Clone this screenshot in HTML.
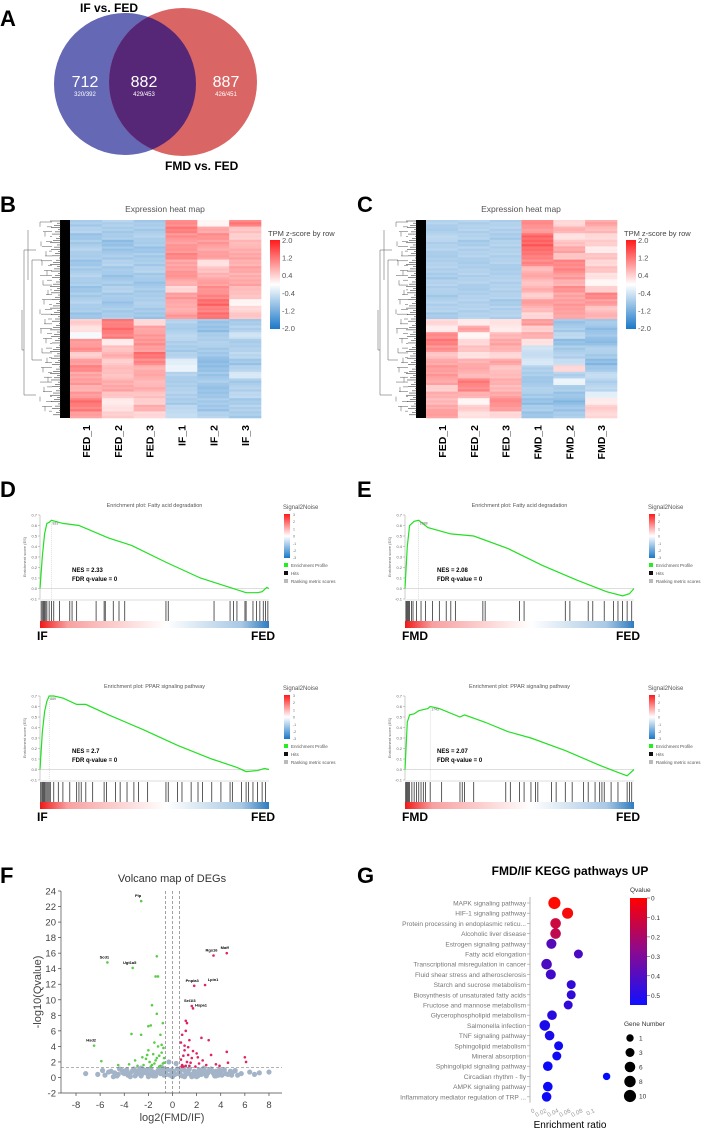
<!DOCTYPE html>
<html><head><meta charset="utf-8"><style>
body{margin:0;background:#fff;width:708px;height:1132px;overflow:hidden}
svg{display:block;font-family:"Liberation Sans",sans-serif}
</style></head><body>
<svg id="fig" width="708" height="1132" viewBox="0 0 708 1132" xmlns="http://www.w3.org/2000/svg">
<defs>
<linearGradient id="hmbar" x1="0" y1="0" x2="0" y2="1"><stop offset="0" stop-color="#ff1a1a"/><stop offset="0.5" stop-color="#ffffff"/><stop offset="1" stop-color="#1a78c8"/></linearGradient>
<linearGradient id="rankbar" x1="0" y1="0" x2="1" y2="0"><stop offset="0" stop-color="#f01818"/><stop offset="0.12" stop-color="#f8a0a0"/><stop offset="0.55" stop-color="#ffffff"/><stop offset="0.88" stop-color="#a8c8e4"/><stop offset="1" stop-color="#2e7cc0"/></linearGradient>
<linearGradient id="qbar" x1="0" y1="0" x2="0" y2="1"><stop offset="0" stop-color="#ff0000"/><stop offset="0.5" stop-color="#8a0a90"/><stop offset="1" stop-color="#1010ff"/></linearGradient>
</defs>
<g>
<text x="0" y="26" font-size="22" font-weight="bold">A</text>
<circle cx="125" cy="84" r="71" fill="#6568b5"/>
<circle cx="183" cy="82" r="74" fill="#d96565"/>
<clipPath id="cl"><circle cx="125" cy="84" r="71"/></clipPath>
<circle cx="183" cy="82" r="74" fill="#562776" clip-path="url(#cl)"/>
<text x="80" y="12" font-size="12" font-weight="bold">IF vs. FED</text>
<text x="165" y="170" font-size="12" font-weight="bold">FMD vs. FED</text>
<g fill="#fff" text-anchor="middle">
<text x="85" y="87" font-size="16">712</text><text x="85" y="96" font-size="6">320/392</text>
<text x="144" y="87" font-size="16">882</text><text x="144" y="96" font-size="6">429/453</text>
<text x="226" y="87" font-size="16">887</text><text x="226" y="96" font-size="6">426/451</text>
</g></g>
<text x="0" y="212" font-size="22" font-weight="bold">B</text>
<text x="357" y="212" font-size="22" font-weight="bold">C</text>
<text x="0" y="497" font-size="22" font-weight="bold">D</text>
<text x="357" y="497" font-size="22" font-weight="bold">E</text>
<text x="0" y="883" font-size="22" font-weight="bold">F</text>
<text x="357" y="883" font-size="22" font-weight="bold">G</text>
</svg>
<script>
const NS='http://www.w3.org/2000/svg';
const svg=document.getElementById('fig');
function mk(tag,attrs,name,parent){const el=document.createElementNS(NS,tag);for(const k in attrs)el.setAttribute(k,attrs[k]);


(parent||svg).appendChild(el);return el;}
function txt(x,y,s,size,name,extra){const e=mk('text',Object.assign({x:x,y:y,'font-size':size},extra||{}),name);e.textContent=s;return e;}

const hmColsB=['FED_1','FED_2','FED_3','IF_1','IF_2','IF_3'];
const hmB_FED1=[-0.9,-0.8,-1,-0.9,-0.8,-0.9,-1,-0.9,-0.8,-0.9,-1,-0.9,-0.8,-0.9,-1,0.5,0.3,-0.1,1.0,1.1,0.5,1.0,1.2,0.9,1.0,0.8,1.0,1.4,1.3,1.0];
const hmB_FED2=[-0.8,-0.9,-0.9,-1.1,-1,-0.9,-0.8,-0.9,-1,-0.9,-0.8,-0.9,-1,-0.9,-0.9,1.3,1.4,1.3,0.2,0.6,0.8,0.5,0.7,0.6,0.8,0.9,0.6,0.2,0.3,0.5];
const hmB_FED3=[-0.9,-0.9,-0.8,-0.9,-1,-0.9,-0.9,-0.8,-0.9,-1,-0.9,-0.9,-0.8,-0.9,-1,0.4,0.9,1.0,1.1,1.0,1.4,1.2,0.8,0.9,0.7,0.8,0.6,0.5,0.8,0.4];
const hmB_IF1=[1.2,1.3,1.1,1.0,1.1,1.2,0.9,1.0,1.1,0.8,0.4,1.0,0.9,0.8,1.0,-0.8,-0.9,-0.7,-0.8,-0.9,-0.8,-0.3,-0.2,-0.8,-0.9,-0.8,-0.8,-0.9,-0.7,-0.6];
const hmB_IF2=[0.1,0.9,1.1,1.0,0.9,1.0,0.3,0.6,0.8,1.0,1.1,1.2,1.5,1.3,1.4,-1.0,-1.1,-0.9,-0.8,-0.9,-1.0,-1.2,-1.1,-1.0,-0.9,-1.1,-1.0,-0.9,-1.0,-0.8];
const hmB_IF3=[1.3,0.6,0.5,0.7,0.8,0.9,0.8,0.9,0.8,0.9,0.7,0.6,0.1,0.4,0.6,-0.9,-0.8,-0.5,-0.9,-0.8,-0.7,-1,-0.8,-0.4,-0.9,-0.8,-0.7,-0.9,-0.8,-0.9];
const hmColsC=['FED_1','FED_2','FED_3','FMD_1','FMD_2','FMD_3'];
const hmC_FED1=[-0.8,-0.9,-0.7,-0.8,-0.8,-0.9,-0.8,-0.8,-0.9,-0.8,-0.8,-0.9,-0.8,-0.8,-0.9,0.4,0.2,1.2,1.3,1.1,0.6,0.9,1.0,1.0,0.9,0.5,0.8,0.7,0.9,1.0];
const hmC_FED2=[-0.8,-0.8,-0.8,-0.9,-0.8,-0.8,-0.9,-0.8,-0.8,-0.8,-0.9,-0.8,-0.8,-0.8,-0.8,0.2,0.9,0.1,0.4,0.6,0.3,0.8,0.9,0.7,1.3,1.2,0.8,0.1,0.5,0.3];
const hmC_FED3=[-0.8,-0.8,-0.9,-0.8,-0.8,-0.8,-0.8,-0.9,-0.8,-0.8,-0.8,-0.8,-0.9,-0.8,-0.8,0.3,0.2,0.7,0.9,0.8,0.4,0.9,0.6,0.7,0.8,0.7,0.9,1.2,1.0,0.4];
const hmC_FMD1=[1.2,1.0,1.5,1.6,1.5,1.3,1.2,0.7,0.9,0.6,0.8,0.5,1.0,0.7,0.4,1.0,0.5,0.8,0.3,-0.5,-0.6,-0.4,-0.8,-0.9,-1.0,-0.8,-0.9,-1.1,-0.9,-1.0];
const hmC_FMD2=[0.4,0.8,0.3,0.6,0.9,0.6,1.2,1.2,1.0,0.8,1.1,0.9,1.0,1.0,0.9,-1.0,-0.9,-0.7,-1.1,-0.9,-0.8,-0.6,0.4,-0.8,-0.2,-0.9,-1.0,-1.2,-1.0,-0.9];
const hmC_FMD3=[0.9,0.7,0.4,0.5,0.2,0.6,0.4,0.6,0.3,0.1,0.5,1.2,1.0,0.6,0.8,-0.9,-1.1,-1.0,-1.2,-0.8,-0.9,-1.2,-1.0,-0.6,-0.8,-0.7,-0.3,0.2,0.5,0.4];
const hmTicks=['2.0','1.2','0.4','-0.4','-1.2','-2.0'];

function zcol(v){v=Math.max(-2,Math.min(2,v));let t=Math.min(1,Math.abs(v)/2*0.85);
if(v>=0){return `rgb(255,${Math.round(255-235*t)},${Math.round(255-235*t)})`;}
return `rgb(${Math.round(255-230*t)},${Math.round(255-135*t)},${Math.round(255-55*t)})`;}
const stripe=[1,0.9,1.08,0.95];

function heatmap(ox,cols,data,name){
 const x0=ox+70,x1=ox+261,y0=220,y1=418;const g=mk('g',{},name);
 txt(ox+165,212,'Expression heat map',8.5,'heatmap-title',{fill:'#555','text-anchor':'middle'});
 const cw=(x1-x0)/cols.length,n=data[0].length,rh=(y1-y0)/n;
 data.forEach((col,ci)=>col.forEach((v,ri)=>{
  for(let s=0;s<3;s++){
   mk('rect',{x:x0+ci*cw,y:y0+ri*rh+s*rh/3,width:cw+0.3,height:rh/3+0.3,fill:zcol(v*stripe[(ri*3+s+ci)%4])},'heatmap-cell',g);
  }
 }));
 cols.forEach((c,ci)=>{txt(0,0,c,10.5,'column-label',{'font-weight':'bold','text-anchor':'end',transform:`translate(${x0+cw*ci+cw/2+4},425) rotate(-90)`});});
 const d=mk('g',{stroke:'#555','stroke-width':0.5,fill:'none'},'row-dendrogram');
 mk('rect',{x:ox+60,y:y0,width:10,height:y1-y0,fill:'#000',stroke:'none'},'dendrogram-leaves',d);
 for(let i=0;i<90;i++){const yy=y0+1+i*(y1-y0-2)/90;const l=ox+50+((i*7)%10);mk('line',{x1:l,y1:yy,x2:ox+61,y2:yy,stroke:'#222'},'dendrogram-branch',d);}
 for(let i=0;i<40;i++){const yy=y0+2+i*(y1-y0-4)/40;const l=ox+40+((i*7)%11);mk('line',{x1:l,y1:yy,x2:ox+52,y2:yy},'dendrogram-branch',d);}
 for(let i=0;i<20;i++){const ya=y0+2+i*2*(y1-y0-4)/40;const l=ox+40+((i*5)%9);mk('line',{x1:l,y1:ya,x2:l,y2:ya+(y1-y0-4)/40},'dendrogram-branch',d);}
 mk('path',{d:`M${ox+32} ${y0+40}H${ox+42}M${ox+32} ${y0+40}V${y0+140}M${ox+32} ${y0+140}H${ox+42}M${ox+24} ${y0+30}V${y0+175}M${ox+24} ${y0+30}H${ox+36}M${ox+24} ${y0+175}H${ox+36}M${ox+22} ${y0+90}V${y0+130}H${ox+24}M${ox+28} ${y0+10}V${y0+60}`},'dendrogram-trunk',d);
 mk('rect',{x:ox+270,y:240,width:10,height:89,fill:'url(#hmbar)'},'colorbar',g);
 txt(ox+268,236,'TPM z-score by row',7.5,'colorbar-title',{fill:'#444'});
 hmTicks.forEach((t,i)=>txt(ox+282,243+i*17.6,t,7.5,'colorbar-tick',{fill:'#555'}));
}
heatmap(0,hmColsB,[hmB_FED1,hmB_FED2,hmB_FED3,hmB_IF1,hmB_IF2,hmB_IF3],'heatmap-b');
heatmap(356,hmColsC,[hmC_FED1,hmC_FED2,hmC_FED3,hmC_FMD1,hmC_FMD2,hmC_FMD3],'heatmap-c');

const esRankD1=[0,0.01,0.02,0.03,0.04,0.05,0.1,0.17,0.3,0.4,0.55,0.7,0.8,0.9,0.95,0.97,0.99,1];
const esValD1=[0,0.3,0.52,0.62,0.63,0.65,0.62,0.6,0.48,0.41,0.25,0.1,0.03,-0.04,-0.04,-0.03,0.01,0];
const hitsD1=[0.005,0.01,0.015,0.02,0.025,0.03,0.04,0.05,0.06,0.085,0.13,0.14,0.16,0.245,0.28,0.285,0.32,0.345,0.37,0.55,0.56,0.76,0.83,0.845,0.86,0.895,0.9,0.93,0.945,0.96,0.975,0.985,0.995];
const esRankD2=[0,0.01,0.02,0.03,0.04,0.06,0.1,0.16,0.2,0.3,0.45,0.6,0.75,0.86,0.9,0.95,0.98,1];
const esValD2=[0,0.35,0.55,0.65,0.7,0.7,0.68,0.62,0.62,0.52,0.38,0.23,0.1,0.02,-0.02,-0.01,0.01,0];
const hitsD2=[0.003,0.008,0.012,0.016,0.02,0.025,0.03,0.035,0.04,0.045,0.06,0.08,0.1,0.13,0.16,0.17,0.18,0.2,0.23,0.28,0.29,0.33,0.35,0.38,0.41,0.43,0.47,0.55,0.56,0.6,0.62,0.66,0.69,0.71,0.75,0.79,0.83,0.84,0.88,0.9,0.91,0.93,0.95,0.97,0.985];
const esRankE1=[0,0.01,0.02,0.04,0.06,0.1,0.2,0.3,0.45,0.6,0.75,0.88,0.95,0.98,1];
const esValE1=[0,0.4,0.6,0.64,0.65,0.58,0.52,0.5,0.38,0.22,0.08,-0.03,-0.07,-0.05,0];
const hitsE1=[0.004,0.008,0.012,0.016,0.02,0.028,0.035,0.05,0.07,0.09,0.12,0.15,0.18,0.2,0.22,0.34,0.35,0.5,0.52,0.7,0.72,0.8,0.82,0.87,0.91,0.93,0.95,0.97,0.99];
const esRankE2=[0,0.01,0.02,0.04,0.06,0.1,0.11,0.15,0.24,0.26,0.35,0.45,0.55,0.7,0.85,0.92,0.97,1];
const esValE2=[0,0.45,0.52,0.53,0.56,0.58,0.6,0.58,0.5,0.52,0.45,0.36,0.3,0.18,0.04,-0.02,-0.06,0];
const hitsE2=[0.003,0.007,0.011,0.015,0.02,0.03,0.04,0.05,0.06,0.07,0.08,0.09,0.11,0.16,0.24,0.25,0.26,0.3,0.44,0.46,0.5,0.52,0.55,0.57,0.58,0.64,0.66,0.7,0.73,0.78,0.8,0.83,0.85,0.86,0.87,0.9,0.93,0.97,0.98,0.99];
const esTicks=[0.7,0.6,0.5,0.4,0.3,0.2,0.1,0.0,-0.1];
const s2nTicks=['3','2','1','0','-1','-2','-3'];

function gsea(ox,oy,title,rk,es,hits,nes,left,peakLabel,name){
 const g=mk('g',{},name);
 const X0=ox+40,X1=ox+269,Y0=oy+515,Y1=oy+599;
 const sx=f=>X0+f*(X1-X0), sy=v=>Y0+(0.7-v)/0.8*(Y1-Y0);
 txt((X0+X1)/2,oy+507,title,5.5,'gsea-title',{fill:'#555','text-anchor':'middle'});
 mk('line',{x1:X0,y1:Y0,x2:X0,y2:Y1,stroke:'#999','stroke-width':0.5},'y-axis',g);
 esTicks.forEach(t=>{mk('line',{x1:X0-2,y1:sy(t),x2:X0,y2:sy(t),stroke:'#999','stroke-width':0.5},'y-tick',g);
  txt(X0-3,sy(t)+1.5,t.toFixed(1),4,'y-tick-label',{fill:'#666','text-anchor':'end'});});
 txt(0,0,'Enrichment score (ES)',4,'y-axis-title',{fill:'#666','text-anchor':'middle',transform:`translate(${ox+26},${(Y0+Y1)/2}) rotate(-90)`});
 mk('line',{x1:X0,y1:sy(0),x2:X1,y2:sy(0),stroke:'#bbb','stroke-width':0.6},'zero-line',g);
 mk('line',{x1:X0,y1:Y1+1,x2:X1,y2:Y1+1,stroke:'#bbb','stroke-width':0.6},'plot-bottom',g);
 let pi=0;es.forEach((v,i)=>{if(v>es[pi])pi=i;});
 mk('line',{x1:sx(rk[pi]),y1:sy(es[pi]),x2:sx(rk[pi]),y2:Y1,stroke:'#bbb','stroke-width':0.5,'stroke-dasharray':'1,1'},'peak-marker',g);
 txt(sx(rk[pi])+1,sy(es[pi])+4,peakLabel,3.5,'peak-label',{fill:'#666'});
 mk('polyline',{points:rk.map((f,i)=>sx(f)+','+sy(es[i])).join(' '),fill:'none',stroke:'#22e022','stroke-width':1.2},'enrichment-profile',g);
 txt(ox+72,oy+572,'NES = '+nes,6,'nes-text',{'font-weight':'bold'});
 txt(ox+72,oy+581,'FDR q-value = 0',6,'fdr-text',{'font-weight':'bold'});
 hits.forEach(f=>{mk('line',{x1:sx(f),y1:Y1+2,x2:sx(f),y2:oy+621,stroke:'#333','stroke-width':0.8},'hit-line',g);});
 mk('rect',{x:X0,y:oy+621,width:X1-X0,height:7,fill:'url(#rankbar)'},'ranking-bar',g);
 txt(X0-3,oy+640,left,12,'left-group-label',{'font-weight':'bold'});
 txt(X1+6,oy+640,'FED',12,'right-group-label',{'font-weight':'bold','text-anchor':'end'});
 const lx=ox+283;
 txt(lx,oy+509,'Signal2Noise',6,'legend-title',{fill:'#555'});
 mk('rect',{x:lx+1,y:oy+514,width:6,height:44,fill:'url(#hmbar)'},'signal-colorbar',g);
 s2nTicks.forEach((t,i)=>txt(lx+10,oy+516+i*7.2,t,3.5,'signal-tick',{fill:'#666'}));
 [['#22ee22','Enrichment Profile'],['#111','Hits'],['#bbb','Ranking metric scores']].forEach((e,i)=>{
  mk('rect',{x:lx+1,y:oy+563+i*8,width:4,height:4,fill:e[0]},'legend-swatch',g);
  txt(lx+8,oy+567+i*8,e[1],4.5,'legend-entry',{fill:'#555'});});
}
gsea(0,0,'Enrichment plot: Fatty acid degradation',esRankD1,esValD1,hitsD1,'2.33','IF','833','gsea-d-fatty-acid');
gsea(0,181,'Enrichment plot: PPAR signaling pathway',esRankD2,esValD2,hitsD2,'2.7','IF','889','gsea-d-ppar');
gsea(365,0,'Enrichment plot: Fatty acid degradation',esRankE1,esValE1,hitsE1,'2.08','FMD','1088','gsea-e-fatty-acid');
gsea(365,181,'Enrichment plot: PPAR signaling pathway',esRankE2,esValE2,hitsE2,'2.07','FMD','1743','gsea-e-ppar');

const grayX=[-7.2,-6.2,-5.6,-5.1,-4.8,-4.5,-4.2,-4.0,-3.8,-3.6,-3.4,-3.2,-3.0,-2.8,-2.6,-2.4,-2.2,-2.0,-1.8,-1.6,-1.4,-1.2,-1.0,-0.8,-0.6,-0.4,-0.2,0,0.2,0.4,0.6,0.8,1.0,1.2,1.4,1.6,1.8,2.0,2.2,2.4,2.6,2.8,3.0,3.2,3.4,3.6,3.8,4.0,4.3,4.6,5.0,5.4,7.2,8.0,-3.5,-2.5,-1.5,-0.5,0.5,1.5,2.5,3.5,-3,-2,-1,1,2,3,-2.7,-1.7,-0.9,0.9,1.7,2.7,-0.3,0.3,-0.1,0.1,
 -4.6,-4.1,-3.7,-3.3,-2.9,-2.3,-1.9,-1.3,-0.7,0.7,1.3,1.9,2.3,2.9,3.3,3.7,4.1,4.8,5.2,-5.3,-4.4,-3.9,-3.1,-2.1,-1.1,1.1,2.1,3.1,3.9,4.4,-2.6,-1.6,-0.6,0.6,1.6,2.6,-3.6,3.6,-4.9,4.9,5.7,-5.8,6.4,6.8];
const grayY=[0.5,0.4,0.3,0.8,0.6,0.4,0.9,0.5,1.0,0.3,0.7,1.1,0.4,0.9,0.2,1.0,0.6,0.3,1.1,0.7,0.2,0.9,0.5,1.2,0.6,1.0,0.3,0.1,0.4,1.1,0.7,0.2,0.9,0.5,1.1,0.3,0.8,0.6,1.0,0.4,0.9,0.2,0.7,1.1,0.5,0.8,0.3,0.6,1.0,0.4,0.7,0.3,0.6,0.7,0.1,0.5,0.6,0.4,0.5,0.4,0.6,0.2,0.8,0.1,0.8,0.1,0.1,0.9,0.7,0.3,1.3,1.2,0.2,0.5,2.0,1.8,0.9,0.8,
 0.2,0.6,0.3,0.9,0.6,0.8,0.5,0.6,0.3,0.3,0.8,0.2,0.4,0.5,0.8,0.6,0.3,0.8,0.9,0.7,1.1,0.8,0.2,1.0,1.0,0.4,0.2,1.0,1.0,0.5,1.2,0.2,0.8,0.9,0.1,1.2,0.5,0.2,0.1,0.3,0.5,0.9,0.7,0.4];
const greenX=[-2.6,-5.4,-3.3,-6.5,-1.3,-1.4,-1.2,-1.7,-1.3,-1.8,-2.0,-0.8,-3.4,-2.6,-1.0,-5.9,-4.5,-3.6,-2.9,-1.5,-1.2,-0.9,-2.0,-1.6,-1.1,-0.7,-2.2,-1.9,-1.4,-0.8,-2.4,-1.7,-1.0,-0.7,-2.1,-1.3,-0.9,-1.8,-1.5,-1.1,-2.5,-0.75,-3.1];
const greenY=[22.7,14.8,14.1,4.1,15.6,13.0,13.0,9.3,8.2,6.7,6.6,7.0,5.6,5.5,5.5,2.1,1.6,1.7,1.5,4.5,4.0,4.2,3.5,3.0,2.8,2.5,2.4,2.0,2.2,1.8,1.6,1.6,1.5,1.9,2.9,2.5,3.2,1.4,1.8,1.4,2.6,3.8,2.2];
const greenLabels={0:'Plp',1:'Scd1',2:'Ugt1a5',3:'Hsd2'};
const redX=[4.5,3.4,1.8,2.7,1.6,1.7,1.1,1.2,1.1,0.8,2.4,3.0,1.4,4.5,6.0,6.1,3.2,4.6,2.5,1.0,0.7,0.9,1.3,1.6,2.0,2.2,0.8,1.1,1.5,1.9,0.7,1.2,1.7,2.8,3.6,0.9,1.4,2.1,0.75,1.0,1.3,3.9];
const redY=[16.0,15.7,11.8,11.9,9.2,8.9,7.3,7.0,6.0,5.5,5.1,4.8,4.8,3.3,2.6,2.0,2.9,1.9,2.2,3.5,4.5,2.8,3.9,2.5,3.1,1.8,1.6,1.5,1.9,1.4,2.3,2.0,3.4,1.6,1.7,1.4,1.5,2.6,1.4,4.1,2.9,1.5];
const redLabels={0:'Maff',1:'Rgs16',2:'Pnpla3',3:'Lpin1',4:'Sel1l3',5:'Hspa1'};
const vxTicks=[-8,-6,-4,-2,0,2,4,6,8];
const vyTicks=[24,22,20,18,16,14,12,10,8,6,4,2,0,-2];
(function(){
 const g=mk('g',{},'volcano-plot');
 const vx=v=>172.5+v*12.06, vy=v=>891+(24-v)*7.77;
 txt(172,882,'Volcano map of DEGs',11,'volcano-title',{fill:'#333','text-anchor':'middle'});
 mk('line',{x1:61,y1:vy(24),x2:61,y2:vy(-2),stroke:'#444','stroke-width':0.7},'y-axis',g);
 mk('line',{x1:61,y1:vy(-2),x2:282,y2:vy(-2),stroke:'#444','stroke-width':0.7},'x-axis',g);
 vyTicks.forEach(t=>{mk('line',{x1:58,y1:vy(t),x2:61,y2:vy(t),stroke:'#444','stroke-width':0.7},'y-tick',g);
  txt(56,vy(t)+3.5,String(t),9.5,'y-tick-label',{fill:'#444','text-anchor':'end'});});
 vxTicks.forEach(t=>{mk('line',{x1:vx(t),y1:vy(-2),x2:vx(t),y2:vy(-2)+3,stroke:'#444','stroke-width':0.7},'x-tick',g);
  txt(vx(t),vy(-2)+15,String(t),9.5,'x-tick-label',{fill:'#444','text-anchor':'middle'});});
 txt(172,1121,'log2(FMD/IF)',11,'x-axis-title',{fill:'#444','text-anchor':'middle'});
 txt(0,0,'-log10(Qvalue)',11,'y-axis-title',{fill:'#444','text-anchor':'middle',transform:`translate(41,${vy(11)}) rotate(-90)`});
 grayX.forEach((x,i)=>mk('circle',{cx:vx(x),cy:vy(grayY[i]),r:2.6,fill:'#a4b4c8'},'gray-point',g));
 [-0.58,0,0.58].forEach(t=>mk('line',{x1:vx(t),y1:vy(24),x2:vx(t),y2:vy(-2),stroke:'#666','stroke-width':0.6,'stroke-dasharray':'3,2'},'threshold-line',g));
 mk('line',{x1:61,y1:vy(1.3),x2:282,y2:vy(1.3),stroke:'#666','stroke-width':0.6,'stroke-dasharray':'3,2'},'q-threshold-line',g);
 greenX.forEach((x,i)=>{mk('circle',{cx:vx(x),cy:vy(greenY[i]),r:1.3,fill:'#5ccc4a'},'down-point',g);
  if(greenLabels[i])txt(vx(x)-3,vy(greenY[i])-4,greenLabels[i],4,'gene-label',{'font-weight':'bold','text-anchor':'middle'});});
 redX.forEach((x,i)=>{mk('circle',{cx:vx(x),cy:vy(redY[i]),r:1.3,fill:'#e0245e'},'up-point',g);
  if(redLabels[i])txt(vx(x)+(i==3||i==5?8:-2),vy(redY[i])-4+(i==5?2:0),redLabels[i],4,'gene-label',{'font-weight':'bold','text-anchor':'middle'});});
})();

const keggPathways=['MAPK signaling pathway','HIF-1 signaling pathway','Protein processing in endoplasmic reticu...','Alcoholic liver disease','Estrogen signaling pathway','Fatty acid elongation','Transcriptional misregulation in cancer','Fluid shear stress and atherosclerosis','Starch and sucrose metabolism','Biosynthesis of unsaturated fatty acids','Fructose and mannose metabolism','Glycerophospholipid metabolism','Salmonella infection','TNF signaling pathway','Sphingolipid metabolism','Mineral absorption','Sphingolipid signaling pathway','Circadian rhythm - fly','AMPK signaling pathway','Inflammatory mediator regulation of TRP ...'];
const keggRatio=[0.039,0.061,0.041,0.041,0.034,0.079,0.026,0.033,0.067,0.067,0.062,0.035,0.023,0.031,0.046,0.043,0.028,0.126,0.028,0.026];
const keggGenes=[10,7,6,6,5,3,6,5,3,3,3,4,6,4,3,3,4,1,4,4];
const keggQ=[0,0.02,0.12,0.15,0.38,0.4,0.4,0.42,0.45,0.45,0.45,0.47,0.5,0.5,0.52,0.52,0.53,0.55,0.53,0.53];
const keggXTicks=[0,0.02,0.04,0.06,0.08,0.1];
const qTicks=[0,0.1,0.2,0.3,0.4,0.5];
const geneLegend=[1,3,6,8,10];
(function(){
 const g=mk('g',{},'kegg-bubble-chart');
 const gx=v=>531+v*600, gy=i=>903+i*10.2, gr=n=>2.6+Math.sqrt(n)*1.1;
 function qc(q){const t=Math.min(1,q/0.55);let r,b;if(t<0.5){r=255-(255-138)*t*2;b=144*t*2;}else{r=138*(1-(t-0.5)*2);b=144+(255-144)*(t-0.5)*2;}return `rgb(${Math.round(r)},10,${Math.round(b)})`;}
 txt(570,875,'FMD/IF KEGG pathways UP',12,'kegg-title',{'font-weight':'bold','text-anchor':'middle'});
 mk('line',{x1:530,y1:gy(0)-6,x2:530,y2:gy(19)+6,stroke:'#999','stroke-width':0.7},'y-axis',g);
 keggPathways.forEach((p,i)=>{mk('line',{x1:527,y1:gy(i),x2:530,y2:gy(i),stroke:'#999','stroke-width':0.6},'y-tick',g);
  txt(526,gy(i)+2.5,p,6.6,'pathway-label',{fill:'#777','text-anchor':'end'});});
 keggXTicks.forEach(t=>txt(0,0,String(t),6,'x-tick-label',{fill:'#999','text-anchor':'end',transform:`translate(${gx(t)+4},1112) rotate(-25)`}));
 txt(570,1128,'Enrichment ratio',10,'x-axis-title',{'text-anchor':'middle'});
 keggRatio.forEach((v,i)=>mk('circle',{cx:gx(v),cy:gy(i),r:gr(keggGenes[i]),fill:qc(keggQ[i])},'bubble',g));
 txt(630,892,'Qvalue',6.5,'qvalue-legend-title',{fill:'#333'});
 mk('rect',{x:630,y:898,width:17,height:107,fill:'url(#qbar)'},'qvalue-colorbar',g);
 qTicks.forEach(t=>{const yy=898+t/0.55*107;mk('line',{x1:647,y1:yy,x2:650,y2:yy,stroke:'#333','stroke-width':0.5},'q-tick',g);
  txt(651,yy+2.5,String(t),6.5,'q-tick-label',{fill:'#333'});});
 txt(624,1026,'Gene Number',6.5,'gene-number-legend-title',{fill:'#333'});
 geneLegend.forEach((n,i)=>{const yy=1038+i*14.5;mk('circle',{cx:630,cy:yy,r:gr(n),fill:'#000'},'gene-legend-dot',g);
  txt(639,yy+2.5,String(n),6.5,'gene-legend-label',{fill:'#333'});});
})();
</script>
</body></html>
